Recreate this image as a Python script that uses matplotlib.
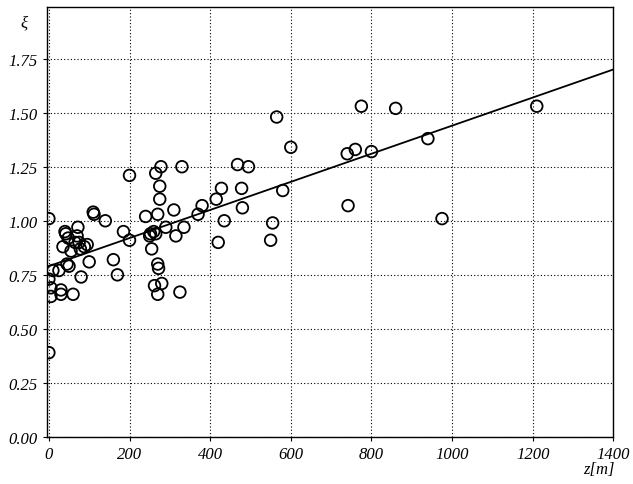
import matplotlib
matplotlib.use("Agg")
import matplotlib.pyplot as plt
import numpy as np

z = [0,0,0,5,5,10,25,30,30,35,40,42,45,48,50,55,60,65,70,72,75,78,80,88,95,100,110,112,140,160,170,185,200,200,240,250,252,255,260,262,265,265,270,270,270,272,275,275,278,280,290,310,315,325,330,335,370,380,415,420,428,435,468,478,480,495,550,555,565,580,600,740,742,760,775,800,860,940,975,1210]
xi = [0.39,1.01,0.73,0.69,0.65,0.77,0.77,0.68,0.66,0.88,0.95,0.94,0.80,0.92,0.79,0.86,0.66,0.90,0.93,0.97,0.90,0.87,0.74,0.88,0.89,0.81,1.04,1.03,1.00,0.82,0.75,0.95,1.21,0.91,1.02,0.93,0.94,0.87,0.95,0.70,1.22,0.94,0.80,1.03,0.66,0.78,1.16,1.10,1.25,0.71,0.97,1.05,0.93,0.67,1.25,0.97,1.03,1.07,1.10,0.90,1.15,1.00,1.26,1.15,1.06,1.25,0.91,0.99,1.48,1.14,1.34,1.31,1.07,1.33,1.53,1.32,1.52,1.38,1.01,1.53]
fit_x = [0, 1400]
fit_y = [0.79, 1.70]
xticks = [0,200,400,600,800,1000,1200,1400]
yticks = [0,0.25,0.5,0.75,1.0,1.25,1.5,1.75]

fnt = dict(family="Liberation Serif", style="italic", size=12)
fig = plt.figure(figsize=(6.33,4.85), dpi=100)
ax = fig.add_axes([0.074, 0.097, 0.895, 0.887])
ax.plot(fit_x, fit_y, color="black", lw=1.3)
ax.scatter(z, xi, s=70, facecolors="none", edgecolors="black", linewidths=1.3, zorder=3)
ax.set_xlim(-5, 1400)
ax.set_ylim(0, 1.99)
ax.set_xticks(xticks)
ax.set_yticks(yticks)
ax.set_xticklabels([str(t) for t in xticks], **fnt)
ax.set_yticklabels([f"{t:.2f}" for t in yticks], **fnt)
ax.grid(True, linestyle=(0,(1,2)), color="black", lw=0.8)
ax.tick_params(length=3, direction="out")
for s in ax.spines.values():
    s.set_linewidth(1.0)
ax.text(-0.04, 0.965, "ξ", transform=ax.transAxes, ha="center", va="center", **fnt)
ax.text(0.975, -0.075, "z[m]", transform=ax.transAxes, ha="center", va="center", **fnt)
fig.savefig("out.png")
